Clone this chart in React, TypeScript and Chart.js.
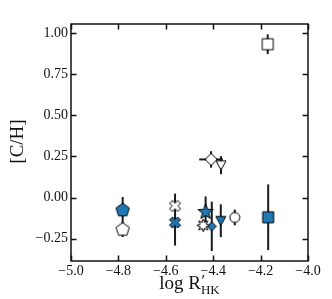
import React, { useEffect, useRef } from "react";
import { Chart, registerables } from "chart.js";

Chart.register(...registerables);

// Axis ticks
const xTicks = [-5.0, -4.8, -4.6, -4.4, -4.2, -4.0];
const yTicks = [-0.25, 0.0, 0.25, 0.5, 0.75, 1.0];

// Open (white) markers
const openShapes = ["pentagon", "cross", "burst", "circle", "diamond", "triangleDown", "square"];
const openX = [-4.782, -4.561, -4.442, -4.309, -4.409, -4.367, -4.17];
const openY = [-0.195, -0.051, -0.169, -0.121, 0.232, 0.197, 0.933];
const openYErr = [0.045, 0.075, 0.03, 0.048, 0.05, 0.055, 0.06];
const openXErr = [0, 0, 0, 0, 0.05, 0, 0];
const openSizes = [14, 11, 13, 10, 12, 10, 11];

// Filled (blue) markers
const blueShapes = ["pentagon", "cross", "star", "diamond", "triangleDown", "square"];
const blueX = [-4.782, -4.561, -4.432, -4.406, -4.368, -4.168];
const blueY = [-0.077, -0.152, -0.088, -0.175, -0.141, -0.12];
const blueYErr = [0.08, 0.14, 0.095, 0.15, 0.1, 0.2];
const blueXErr = [0, 0, 0, 0, 0, 0];
const blueSizes = [14, 11, 16, 9, 10, 11];

const BLUE = "#1f77b4";
const SERIF = "'Liberation Serif', 'DejaVu Serif', serif";

function makeMarker(shape: string, fill: string, size: number): HTMLCanvasElement {
  const pad = 3;
  const w = Math.ceil(size + pad * 2);
  const c = document.createElement("canvas");
  c.width = w;
  c.height = w;
  const ctx = c.getContext("2d")!;
  const cx = w / 2;
  const cy = w / 2;
  const r = size / 2;
  const pts: [number, number][] = [];
  const poly = (n: number, rad: number, start: number) => {
    for (let i = 0; i < n; i++) {
      const a = start + (i * 2 * Math.PI) / n;
      pts.push([cx + rad * Math.cos(a), cy + rad * Math.sin(a)]);
    }
  };
  const starPts = (n: number, ro: number, ri: number) => {
    for (let i = 0; i < n * 2; i++) {
      const a = -Math.PI / 2 + (i * Math.PI) / n;
      const rr = i % 2 === 0 ? ro : ri;
      pts.push([cx + rr * Math.cos(a), cy + rr * Math.sin(a)]);
    }
  };
  ctx.beginPath();
  if (shape === "circle") {
    ctx.arc(cx, cy, r, 0, Math.PI * 2);
  } else {
    if (shape === "pentagon") poly(5, r, -Math.PI / 2);
    else if (shape === "square") {
      pts.push([cx - r, cy - r], [cx + r, cy - r], [cx + r, cy + r], [cx - r, cy + r]);
    } else if (shape === "diamond") {
      pts.push([cx, cy - r], [cx + r, cy], [cx, cy + r], [cx - r, cy]);
    } else if (shape === "triangleDown") {
      pts.push([cx - r, cy - r * 0.85], [cx + r, cy - r * 0.85], [cx, cy + r * 0.95]);
    } else if (shape === "star") starPts(5, r, r * 0.42);
    else if (shape === "burst") starPts(8, r, r * 0.5);
    else if (shape === "cross") {
      const t = r * 0.36;
      const L = r * 1.05;
      const base: [number, number][] = [
        [-t, -L], [t, -L], [t, -t], [L, -t], [L, t], [t, t],
        [t, L], [-t, L], [-t, t], [-L, t], [-L, -t], [-t, -t],
      ];
      const ca = Math.cos(Math.PI / 4);
      base.forEach(([x, y]) => pts.push([cx + (x - y) * ca, cy + (x + y) * ca]));
    }
    pts.forEach(([x, y], i) => (i === 0 ? ctx.moveTo(x, y) : ctx.lineTo(x, y)));
    ctx.closePath();
  }
  ctx.fillStyle = fill;
  ctx.fill();
  ctx.lineWidth = 1;
  ctx.lineJoin = "miter";
  ctx.strokeStyle = "#000";
  ctx.stroke();
  return c;
}

const fmt = (v: number, d: number) => {
  const s = Math.abs(v).toFixed(d);
  return v < -1e-9 ? "\u2212" + s : s;
};

const errorBarPlugin = {
  id: "errbars",
  beforeDatasetDraw(chart: any, args: any) {
    const ds = chart.data.datasets[args.index];
    const xs = chart.scales.x;
    const ys = chart.scales.y;
    const ctx = chart.ctx;
    ctx.save();
    ctx.strokeStyle = "#1a1a1a";
    ctx.lineWidth = 2;
    ds.data.forEach((p: any) => {
      const px = xs.getPixelForValue(p.x);
      const py = ys.getPixelForValue(p.y);
      if (p.yErr) {
        ctx.beginPath();
        ctx.moveTo(px, ys.getPixelForValue(p.y - p.yErr));
        ctx.lineTo(px, ys.getPixelForValue(p.y + p.yErr));
        ctx.stroke();
      }
      if (p.xErr) {
        ctx.beginPath();
        ctx.moveTo(xs.getPixelForValue(p.x - p.xErr), py);
        ctx.lineTo(xs.getPixelForValue(p.x + p.xErr), py);
        ctx.stroke();
      }
    });
    ctx.restore();
  },
};

const framePlugin = {
  id: "frame",
  afterDraw(chart: any) {
    const { ctx, chartArea: a } = chart;
    const xs = chart.scales.x;
    const ys = chart.scales.y;
    ctx.save();
    ctx.strokeStyle = "#111";
    ctx.lineWidth = 1.5;
    const tl = 5.5;
    ctx.beginPath();
    xs.ticks.forEach((t: any) => {
      const px = Math.round(xs.getPixelForValue(t.value)) + 0.5;
      ctx.moveTo(px, a.bottom);
      ctx.lineTo(px, a.bottom - tl);
      ctx.moveTo(px, a.top);
      ctx.lineTo(px, a.top + tl);
    });
    ys.ticks.forEach((t: any) => {
      const py = Math.round(ys.getPixelForValue(t.value)) + 0.5;
      ctx.moveTo(a.left, py);
      ctx.lineTo(a.left + tl, py);
      ctx.moveTo(a.right, py);
      ctx.lineTo(a.right - tl, py);
    });
    ctx.stroke();
    ctx.strokeRect(a.left, a.top, a.right - a.left, a.bottom - a.top);

    // axis titles
    ctx.fillStyle = "#111";
    ctx.save();
    ctx.translate(18, (a.top + a.bottom) / 2 - 1);
    ctx.rotate(-Math.PI / 2);
    ctx.font = `19px ${SERIF}`;
    ctx.textAlign = "center";
    ctx.textBaseline = "middle";
    ctx.fillText("[C/H]", 0, 0);
    ctx.restore();

    const main = "log R";
    ctx.font = `19px ${SERIF}`;
    const wMain = ctx.measureText(main).width;
    ctx.font = `13px ${SERIF}`;
    const wSub = ctx.measureText("HK").width;
    const total = wMain + wSub;
    const x0 = (a.left + a.right) / 2 - total / 2;
    const base = 289;
    ctx.textAlign = "left";
    ctx.textBaseline = "alphabetic";
    ctx.font = `19px ${SERIF}`;
    ctx.fillText(main, x0, base);
    ctx.font = `17px ${SERIF}`;
    ctx.fillText("\u2032", x0 + wMain + 0.5, base - 3);
    ctx.font = `13px ${SERIF}`;
    ctx.fillText("HK", x0 + wMain, base + 4.5);
    ctx.restore();
  },
};

export default function App() {
  const ref = useRef<HTMLCanvasElement | null>(null);
  useEffect(() => {
    document.body.style.margin = "0";
    if (!ref.current) return;
    const datasets: any[] = [];
    openShapes.forEach((s, i) => {
      datasets.push({
        label: "open" + i,
        data: [{ x: openX[i], y: openY[i], yErr: openYErr[i], xErr: openXErr[i] }],
        pointStyle: makeMarker(s, "#ffffff", openSizes[i]),
        pointRadius: openSizes[i] / 2,
      });
    });
    blueShapes.forEach((s, i) => {
      datasets.push({
        label: "blue" + i,
        data: [{ x: blueX[i], y: blueY[i], yErr: blueYErr[i], xErr: blueXErr[i] }],
        pointStyle: makeMarker(s, BLUE, blueSizes[i]),
        pointRadius: blueSizes[i] / 2,
      });
    });
    const tickFont = { family: SERIF, size: 14 };
    const chart = new Chart(ref.current, {
      type: "scatter",
      data: { datasets },
      options: {
        animation: false,
        responsive: false,
        devicePixelRatio: 1,
        layout: { padding: { top: 24, right: 24, left: 0, bottom: 0 } },
        plugins: { legend: { display: false }, tooltip: { enabled: false } },
        scales: {
          x: {
            type: "linear",
            min: -5,
            max: -4,
            afterBuildTicks: (s: any) => {
              s.ticks = xTicks.map((v) => ({ value: v }));
            },
            afterFit: (s: any) => {
              s.height = 38;
            },
            ticks: {
              callback: (v: any) => fmt(Number(v), 1),
              font: tickFont,
              color: "#111",
              padding: 2,
              maxRotation: 0,
              autoSkip: false,
            },
            grid: { display: false, drawTicks: false },
            border: { display: false },
          },
          y: {
            type: "linear",
            min: -0.386,
            max: 1.056,
            afterBuildTicks: (s: any) => {
              s.ticks = yTicks.map((v) => ({ value: v }));
            },
            afterFit: (s: any) => {
              s.width = 71;
            },
            ticks: {
              callback: (v: any) => fmt(Number(v), 2),
              font: tickFont,
              color: "#111",
              padding: 3,
              autoSkip: false,
            },
            grid: { display: false, drawTicks: false },
            border: { display: false },
          },
        },
      } as any,
      plugins: [errorBarPlugin, framePlugin],
    });
    return () => chart.destroy();
  }, []);
  return (
    <div style={{ width: 332, height: 299, background: "#fff" }}>
      <canvas ref={ref} width={332} height={299} />
    </div>
  );
}
